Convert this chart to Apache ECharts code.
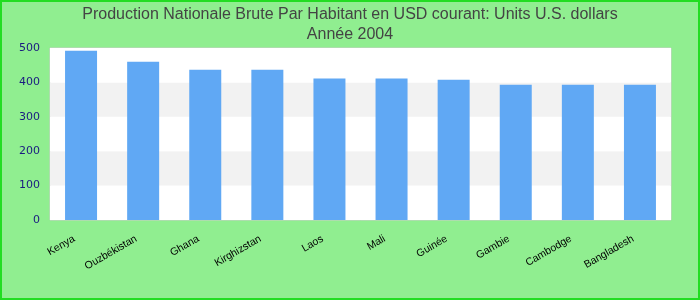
<!DOCTYPE html>
<html><head><meta charset="utf-8">
<script src="https://cdn.jsdelivr.net/npm/echarts@6/dist/echarts.min.js"></script>
<style>html,body{margin:0;padding:0;}#c{width:700px;height:300px;}</style>
</head><body><div id="c"></div>
<script>
const titleLines = ["Production Nationale Brute Par Habitant en USD courant: Units U.S. dollars", "Année 2004"];
const categories = ["Kenya","Ouzbékistan","Ghana","Kirghizstan","Laos","Mali","Guinée","Gambie","Cambodge","Bangladesh"];
const values = [492, 460, 437, 437, 411, 411, 408, 393, 393, 393];
const yTicks = [0, 100, 200, 300, 400, 500];

const chart = echarts.init(document.getElementById('c'), null, {renderer: 'canvas'});
chart.setOption({
  backgroundColor: '#90ee90',
  animation: false,
  graphic: [{type: 'rect', shape: {x: 1, y: 1, width: 698, height: 298}, style: {fill: 'none', stroke: '#22dd22', lineWidth: 2}, silent: true}],
  title: {
    text: titleLines.join('\n'),
    left: 'center', top: 0,
    textStyle: {fontFamily: 'Liberation Sans', fontSize: 16, fontWeight: 'normal', color: '#444444', lineHeight: 20}
  },
  grid: {left: 50, right: 29, top: 48, bottom: 80, show: true, backgroundColor: '#ffffff', borderColor: '#cccccc', borderWidth: 1},
  xAxis: {
    type: 'category', data: categories,
    axisLine: {show: false}, axisTick: {show: false},
    axisLabel: {rotate: 30, interval: 0, margin: 14, padding: [0, 8, 0, 0], fontFamily: 'Liberation Sans', fontSize: 10.5, color: '#000000'}
  },
  yAxis: {
    type: 'value', min: yTicks[0], max: yTicks[yTicks.length - 1], interval: 100,
    axisLine: {show: false}, axisTick: {show: false},
    splitLine: {show: false},
    splitArea: {show: true, areaStyle: {color: ['#ffffff', '#f2f2f2']}},
    axisLabel: {fontFamily: 'DejaVu Sans', fontSize: 11, color: '#1a1a80', margin: 10}
  },
  series: [{type: 'bar', data: values, barWidth: 32, itemStyle: {color: '#60a8f4'}}]
});
</script></body></html>
